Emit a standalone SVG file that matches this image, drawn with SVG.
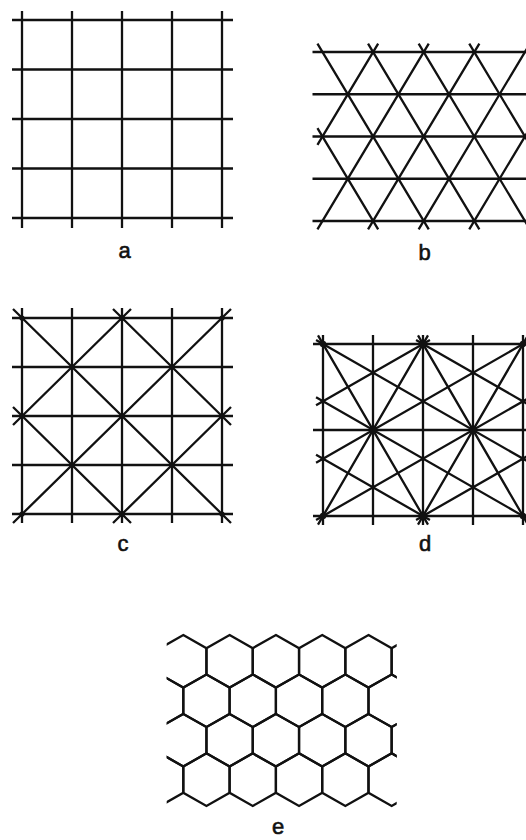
<svg xmlns="http://www.w3.org/2000/svg" xmlns:xlink="http://www.w3.org/1999/xlink" width="526" height="840" viewBox="0 0 526 840">
<style>
.ln{stroke:#111;stroke-width:2.3;fill:none;stroke-linecap:butt;stroke-linejoin:miter}
.dot{fill:#111}
.lbl{font-family:"Liberation Sans",Arial,sans-serif;font-size:22px;fill:#111;stroke:#111;stroke-width:0.6;text-anchor:middle}
</style>
<defs>
<path id="hex" d="M0 -26.3L23.15 -13.15V13.15L0 26.3L-23.15 13.15V-13.15Z"/>
<clipPath id="eclip"><rect x="166.7" y="600" width="230" height="230"/></clipPath>
</defs>
<rect width="526" height="840" fill="#fff"/>

<g id="panel-a">
<path class="ln" d="M12 20H233M12 69.5H233M12 119H233M12 168.5H233M12 218H233M22 11V228M72 11V228M122 11V228M172 11V228M222 11V228"/>
<text class="lbl" x="124.5" y="258">a</text>
</g>

<g id="panel-b">
<path class="ln" d="M312.5 52H526M312.5 94.25H526M312.5 136.5H526M312.5 178.75H526M312.5 221H526"/>
<path class="ln" d="M317.44 43.55L428.76 229.45M368.04 43.55L479.36 229.45M418.64 43.55L529.96 229.45M469.24 43.55L529.96 144.95M317.44 128.05L378.16 229.45"/>
<path class="ln" d="M378.16 43.55L317.44 144.95M428.76 43.55L317.44 229.45M479.36 43.55L368.04 229.45M529.96 43.55L418.64 229.45M529.96 128.05L469.24 229.45"/>
<text class="lbl" x="424.5" y="260">b</text>
</g>

<g id="panel-c">
<path class="ln" d="M12 318H233M12 367H233M12 416H233M12 465H233M12 514H233M22 308V523M72 308V523M122 308V523M172 308V523M222 308V523"/>
<path class="ln" d="M13 309L231 523M113 309L231 425M13 407L131 523M131 309L13 425M231 309L13 523M231 407L113 523"/>
<g class="dot">
<circle cx="22" cy="318" r="2.6"/><circle cx="122" cy="318" r="3"/><circle cx="222" cy="318" r="2.6"/>
<circle cx="72" cy="367" r="2.6"/><circle cx="172" cy="367" r="2.6"/>
<circle cx="22" cy="416" r="2.6"/><circle cx="122" cy="416" r="2.6"/><circle cx="222" cy="416" r="2.6"/>
<circle cx="72" cy="465" r="2.6"/><circle cx="172" cy="465" r="2.6"/>
<circle cx="22" cy="514" r="2.6"/><circle cx="122" cy="514" r="3"/><circle cx="222" cy="514" r="2.6"/>
</g>
<text class="lbl" x="123" y="551">c</text>
</g>

<g id="panel-d">
<path class="ln" d="M313 344H530M313 430H530M313 516H530M323 335V525M373 335V525M423 335V525M473 335V525M523 335V525"/>
<path class="ln" d="M318 335.4L428 524.6M428 335.4L318 524.6M418 335.4L528 524.6M528 335.4L418 524.6"/>
<path class="ln" d="M316.06 340.02L529.94 462.65M316.06 519.98L529.94 397.35M529.94 340.02L316.06 462.65M529.94 519.98L316.06 397.35M429.94 340.02L316.06 405.31M416.06 340.02L529.94 405.31M429.94 519.98L316.06 454.69M416.06 519.98L529.94 454.69"/>
<g class="dot">
<circle cx="323" cy="344" r="3.2"/><circle cx="423" cy="344" r="4"/><circle cx="523" cy="344" r="3.2"/>
<circle cx="373" cy="430" r="3.8"/><circle cx="473" cy="430" r="3.8"/>
<circle cx="323" cy="516" r="3.2"/><circle cx="423" cy="516" r="4"/><circle cx="523" cy="516" r="3.2"/>
<circle cx="323" cy="401.33" r="2.2"/><circle cx="323" cy="458.67" r="2.2"/>
<circle cx="523" cy="401.33" r="2.2"/><circle cx="523" cy="458.67" r="2.2"/>
<circle cx="373" cy="372.67" r="2"/><circle cx="473" cy="372.67" r="2"/>
<circle cx="423" cy="401.33" r="2"/><circle cx="423" cy="458.67" r="2"/>
<circle cx="373" cy="487.33" r="2"/><circle cx="473" cy="487.33" r="2"/>
</g>
<text class="lbl" x="425" y="551">d</text>
</g>

<g id="panel-e">
<g class="ln" clip-path="url(#eclip)">
<use href="#hex" x="183.3" y="661.3"/><use href="#hex" x="229.6" y="661.3"/><use href="#hex" x="275.9" y="661.3"/><use href="#hex" x="322.2" y="661.3"/><use href="#hex" x="368.5" y="661.3"/><use href="#hex" x="414.8" y="661.3"/>
<use href="#hex" x="160.15" y="700.75"/><use href="#hex" x="206.45" y="700.75"/><use href="#hex" x="252.75" y="700.75"/><use href="#hex" x="299.05" y="700.75"/><use href="#hex" x="345.35" y="700.75"/><use href="#hex" x="391.65" y="700.75"/>
<use href="#hex" x="183.3" y="740.2"/><use href="#hex" x="229.6" y="740.2"/><use href="#hex" x="275.9" y="740.2"/><use href="#hex" x="322.2" y="740.2"/><use href="#hex" x="368.5" y="740.2"/><use href="#hex" x="414.8" y="740.2"/>
<use href="#hex" x="160.15" y="779.65"/><use href="#hex" x="206.45" y="779.65"/><use href="#hex" x="252.75" y="779.65"/><use href="#hex" x="299.05" y="779.65"/><use href="#hex" x="345.35" y="779.65"/><use href="#hex" x="391.65" y="779.65"/>
</g>
<text class="lbl" x="278" y="834">e</text>
</g>
</svg>
